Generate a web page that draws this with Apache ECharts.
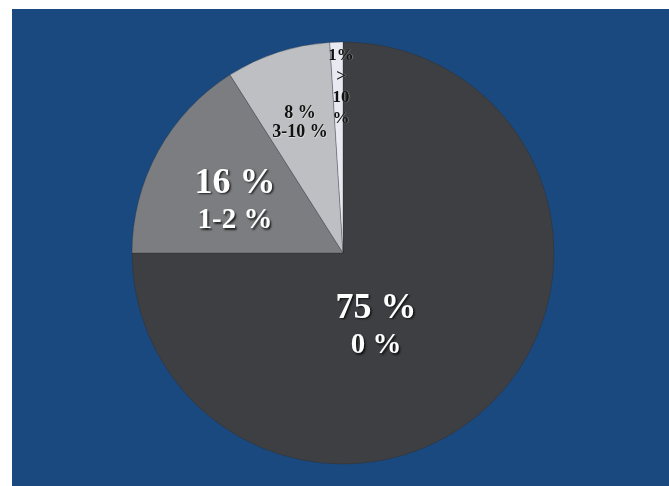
<!DOCTYPE html>
<html>
<head>
<meta charset="utf-8">
<script src="https://cdn.jsdelivr.net/npm/echarts@6/dist/echarts.min.js"></script>
<style>
html,body{margin:0;padding:0;background:#ffffff;width:669px;height:486px;overflow:hidden;}
#chart{position:absolute;left:12px;top:9px;width:657px;height:477px;}
</style>
</head>
<body>
<div id="chart"></div>
<script>
// Data
var shares = [75, 16, 8, 1];
var ranges = ['0 %', '1-2 %', '3-10 %', '> 10 %'];
var shareLabels = ['75 %', '16 %', '8 %', '1%'];

// Styles / layout (not data)
var sliceColors = ['#3e3f42', '#7c7d80', '#bebfc2', '#e8e9f1'];
var labelCenters = [[364, 318], [223, 193], [288, 114], [329, 78]]; // in chart div coords

function labelText(i) {
  if (i === 0 || i === 1) return '{big|' + shareLabels[i] + '}\n{mid|' + ranges[i] + '}';
  if (i === 2) return '{small|' + shareLabels[i] + '}\n{small|' + ranges[i] + '}';
  return '{tiny|' + shareLabels[i] + '}\n{tiny|>}\n{tiny|10}\n{tiny|%}';
}

var data = shares.map(function (v, i) {
  return {
    value: v,
    name: ranges[i],
    itemStyle: { color: sliceColors[i] },
    label: { formatter: labelText(i) }
  };
});

var chart = echarts.init(document.getElementById('chart'), null, { renderer: 'canvas' });
chart.setOption({
  backgroundColor: '#19497e',
  animation: false,
  series: [{
    type: 'pie',
    center: [331, 244],
    radius: 211,
    startAngle: 90,
    clockwise: true,
    avoidLabelOverlap: false,
    itemStyle: { borderWidth: 0.6, borderColor: 'rgba(40,40,45,0.5)' },
    label: {
      show: true,
      position: 'inside',
      align: 'center',
      verticalAlign: 'middle',
      fontFamily: 'Liberation Serif',
      fontWeight: 'bold',
      rich: {
        big: {
          fontFamily: 'Liberation Serif', fontWeight: 'bold', fontSize: 36, color: '#ffffff',
          lineHeight: 38, align: 'center',
          textShadowColor: 'rgba(0,0,0,0.75)', textShadowBlur: 2, textShadowOffsetX: 1.5, textShadowOffsetY: 1.5
        },
        mid: {
          fontFamily: 'Liberation Serif', fontWeight: 'bold', fontSize: 29, color: '#ffffff',
          lineHeight: 37, align: 'center',
          textShadowColor: 'rgba(0,0,0,0.75)', textShadowBlur: 2, textShadowOffsetX: 1.5, textShadowOffsetY: 1.5
        },
        small: {
          fontFamily: 'Liberation Serif', fontWeight: 'bold', fontSize: 18, color: '#111111',
          lineHeight: 19, align: 'center',
          textShadowColor: 'rgba(255,255,255,0.5)', textShadowBlur: 1, textShadowOffsetX: 0.5, textShadowOffsetY: 0.5
        },
        tiny: {
          fontFamily: 'Liberation Serif', fontWeight: 'bold', fontSize: 17, color: '#111111',
          lineHeight: 21, align: 'center',
          textShadowColor: 'rgba(255,255,255,0.5)', textShadowBlur: 1, textShadowOffsetX: 0.5, textShadowOffsetY: 0.5
        }
      }
    },
    labelLine: { show: false },
    emphasis: { disabled: true },
    labelLayout: function (params) {
      var c = labelCenters[params.dataIndex];
      return { x: c[0], y: c[1], align: 'center', verticalAlign: 'middle' };
    },
    data: data
  }]
});
</script>
</body>
</html>
